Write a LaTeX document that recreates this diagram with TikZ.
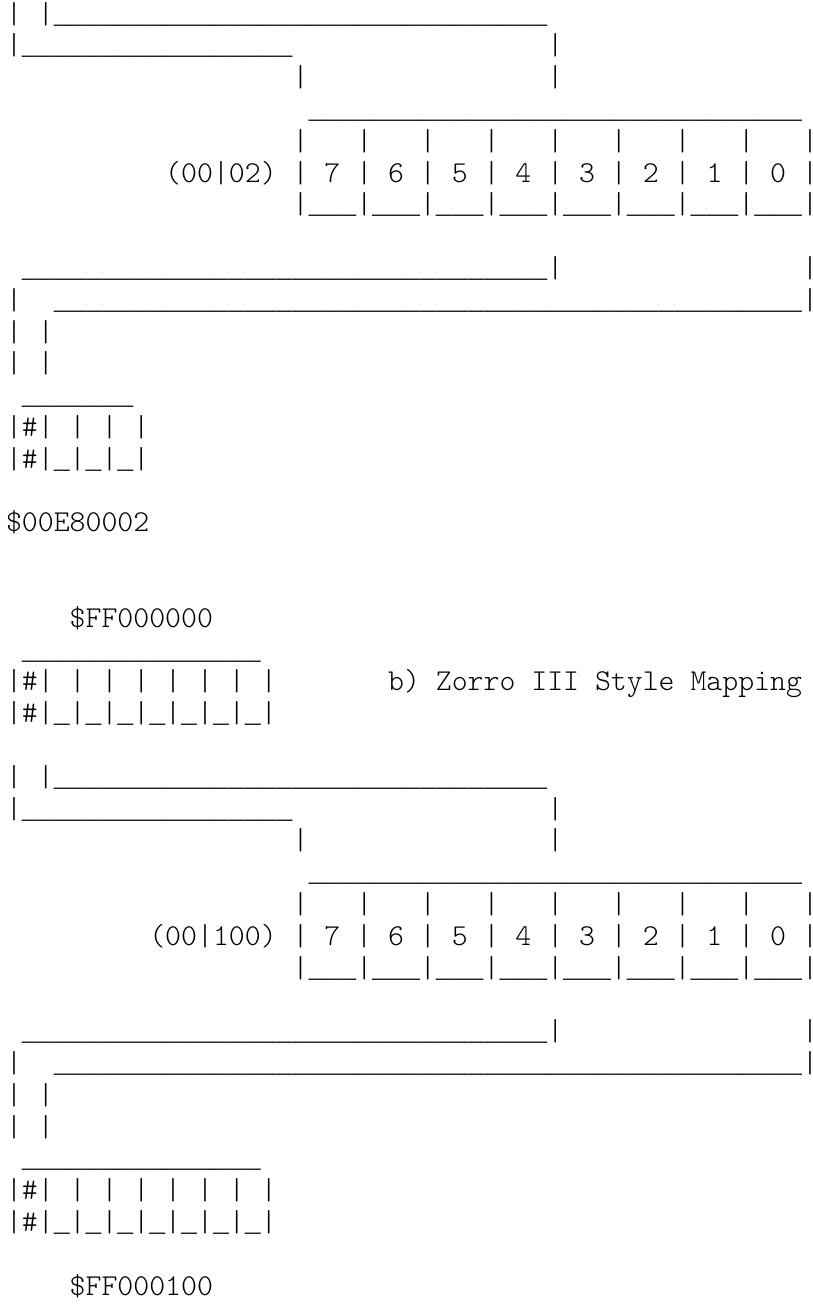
\documentclass[tikz,border=0pt]{standalone}
\usepackage{fontspec}
\newfontfamily\lmlight[Extension=.otf]{lmmonolt10-regular}
\newfontfamily\lmono{Liberation Mono}
\newcommand\Rep[2]{\foreach\RepI in {1,...,#1}{#2}}
\newcommand\RY[1]{(23+31.8*(#1-1))}
\newcommand\E{\kern-7.5pt}
\newlength\cw
\newlength\cwb
\begin{document}
\settowidth\cw{\fontsize{30pt}{36pt}\selectfont\lmlight 0}%
\settowidth\cwb{\fontsize{30pt}{36pt}\selectfont\lmono \_}%
\pgfmathsetmacro\fs{30*15.92/\cw}%
\pgfmathsetmacro\fsb{30*15.92/\cwb}%
\newcommand\U{{\fontsize{\fsb pt}{\fsb pt}\selectfont\lmono\_}}%
\begin{tikzpicture}[x=1pt,y=-1pt]
\tikzset{ln/.style={anchor=base west,inner sep=0pt,outer sep=0pt,
  font=\fontsize{\fs pt}{\fs pt}\selectfont\lmlight,text=black}}
\def\X{6.04}
\fill[white] (0,0) rectangle (812,1304);
\useasboundingbox (0,0) rectangle (812,1304);
% ---- block a
\node[ln] (r1) at (\X,{\RY{1}}) {|~|\Rep{31}{\U}};
\node[ln] (r2) at (\X,{\RY{2}}) {|\Rep{17}{\U}\Rep{16}{~}|};
\node[ln] (r3) at (\X,{\RY{3}}) {\Rep{18}{~}|\Rep{15}{~}|};
\node[ln] (r4) at (\X,{\RY{4}}) {\Rep{19}{~}\Rep{31}{\U}};
\node[ln] (r5) at (\X,{\RY{5}}) {\Rep{18}{~}\Rep{8}{|~~~}|\E};
\node[ln] (r6) at (\X,{\RY{6}}) {\Rep{10}{~}(00|02)~|~7~|~6~|~5~|~4~|~3~|~2~|~1~|~0~|\E};
\node[ln] (r7) at (\X,{\RY{7}}) {\Rep{18}{~}\Rep{8}{|\U\U\U}|\E};
\node[ln] (r9) at (\X,{\RY{9}}) {~\Rep{33}{\U}|\Rep{15}{~}|\E};
\node[ln] (r10) at (\X,{\RY{10}}) {|~~\Rep{47}{\U}|\E};
\node[ln] (r11) at (\X,{\RY{11}}) {|~|};
\node[ln] (r12) at (\X,{\RY{12}}) {|~|};
\node[ln] (r13) at (\X,{\RY{13}}) {~\Rep{7}{\U}};
\node[ln] (r14) at (\X,{\RY{14}}) {|\#|~|~|~|};
\node[ln] (r15) at (\X,{\RY{15}}) {|\#|\U|\U|\U|};
\node[ln] (r17) at (\X,{\RY{17}}) {\$00E80002};
% ---- block b
\node[ln] (r20) at (\X,{\RY{20}}) {~~~~\$FF000000};
\node[ln] (r21) at (\X,{\RY{21}}) {~\Rep{15}{\U}};
\node[ln] (r22) at (\X,{\RY{22}}) {|\#|\Rep{7}{~|}\Rep{7}{~}b)~Zorro~III~Style~Mapping};
\node[ln] (r23) at (\X,{\RY{23}}) {|\#|\Rep{7}{\U|}};
\node[ln] (r25) at (\X,{\RY{25}}) {|~|\Rep{31}{\U}};
\node[ln] (r26) at (\X,{\RY{26}}) {|\Rep{17}{\U}\Rep{16}{~}|};
\node[ln] (r27) at (\X,{\RY{27}}) {\Rep{18}{~}|\Rep{15}{~}|};
\node[ln] (r28) at (\X,{\RY{28}}) {\Rep{19}{~}\Rep{31}{\U}};
\node[ln] (r29) at (\X,{\RY{29}}) {\Rep{18}{~}\Rep{8}{|~~~}|\E};
\node[ln] (r30) at (\X,{\RY{30}}) {\Rep{9}{~}(00|100)~|~7~|~6~|~5~|~4~|~3~|~2~|~1~|~0~|\E};
\node[ln] (r31) at (\X,{\RY{31}}) {\Rep{18}{~}\Rep{8}{|\U\U\U}|\E};
\node[ln] (r33) at (\X,{\RY{33}}) {~\Rep{33}{\U}|\Rep{15}{~}|\E};
\node[ln] (r34) at (\X,{\RY{34}}) {|~~\Rep{47}{\U}|\E};
\node[ln] (r35) at (\X,{\RY{35}}) {|~|};
\node[ln] (r36) at (\X,{\RY{36}}) {|~|};
\node[ln] (r37) at (\X,{\RY{37}}) {~\Rep{15}{\U}};
\node[ln] (r38) at (\X,{\RY{38}}) {|\#|\Rep{7}{~|}};
\node[ln] (r39) at (\X,{\RY{39}}) {|\#|\Rep{7}{\U|}};
\node[ln] (r41) at (\X,{\RY{41}}) {~~~~\$FF000100};
\end{tikzpicture}
\end{document}
